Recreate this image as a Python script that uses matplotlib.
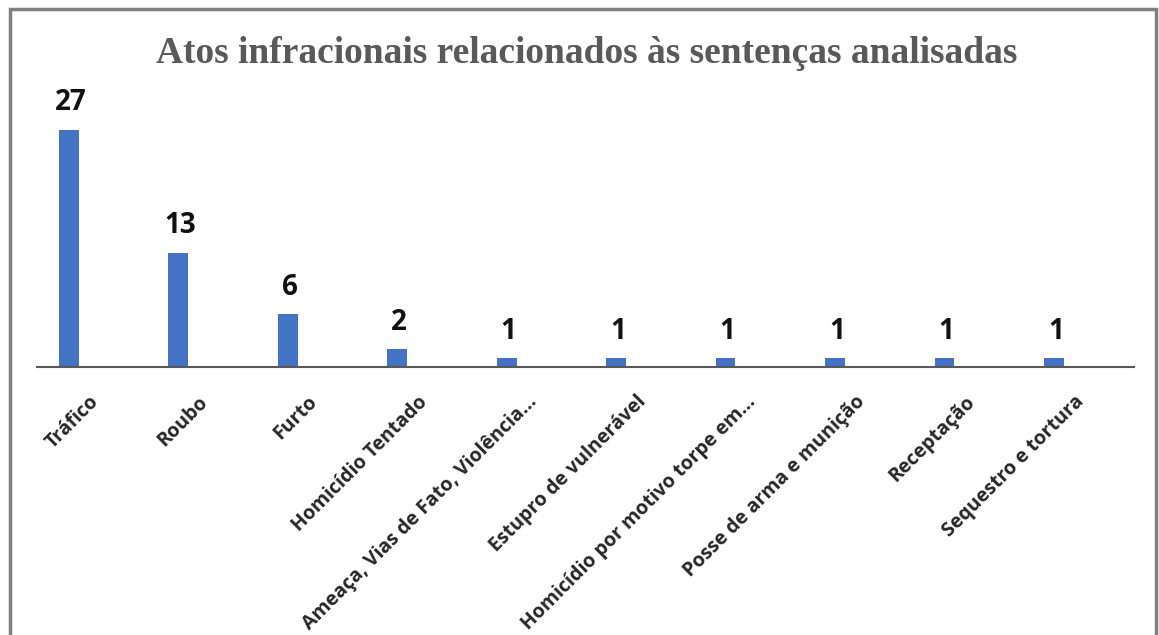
import matplotlib
matplotlib.use("Agg")
import matplotlib.pyplot as plt
from matplotlib.patches import Rectangle
from matplotlib.transforms import ScaledTranslation

categorias = ["Tráfico", "Roubo", "Furto", "Homicídio Tentado",
              "Ameaça, Vias de Fato, Violência...", "Estupro de vulnerável",
              "Homicídio por motivo torpe em...", "Posse de arma e munição",
              "Receptação", "Sequestro e tortura"]
valores = [27, 13, 6, 2, 1, 1, 1, 1, 1, 1]

titulo = "Atos infracionais relacionados às sentenças analisadas"

W, H = 1159, 635
fig = plt.figure(figsize=(W / 100, H / 100), dpi=100)
fig.patch.set_facecolor("white")

# eixo posicionado em pixels
ax = fig.add_axes([37 / W, 1 - 367 / H, (1134 - 37) / W, (367 - 100) / H])
x = list(range(len(categorias)))
ax.bar(x, valores, width=0.18, color="#4472C4")
ax.set_xlim(-0.29, 9.73)
ax.set_ylim(0, 30.4)

for s in ["top", "right", "left"]:
    ax.spines[s].set_visible(False)
ax.spines["bottom"].set_color("#595959")
ax.spines["bottom"].set_linewidth(1.5)
ax.set_yticks([])
ax.set_xticks(x)
ax.set_xticklabels(categorias, rotation=45, ha="right", va="center",
                   rotation_mode="anchor", fontsize=14, fontfamily="Open Sans",
                   fontweight="bold", color="#262626")
ax.tick_params(axis="x", length=0, pad=0)
offset = ScaledTranslation(0.27, -0.32, fig.dpi_scale_trans)
for lbl in ax.get_xticklabels():
    lbl.set_transform(lbl.get_transform() + offset)

# rótulos de valor
for xi, v in zip(x, valores):
    ax.annotate(str(v), (xi, v), xytext=(2, 27), textcoords="offset pixels",
                ha="center", va="center", fontsize=20, fontweight="bold",
                fontfamily="Open Sans", color="#111111")

fig.text(587 / W, 1 - 63 / H, titulo, ha="center", va="baseline",
         fontsize=27, fontweight="bold", fontfamily="Liberation Serif",
         color="#595959")

# moldura do gráfico
fig.patches.append(Rectangle((10 / W, -0.05), (1156 - 10) / W, 1.05 - 9 / H,
                             transform=fig.transFigure, fill=False,
                             edgecolor="#808080", linewidth=2.5))

fig.savefig("out.png", dpi=100)
